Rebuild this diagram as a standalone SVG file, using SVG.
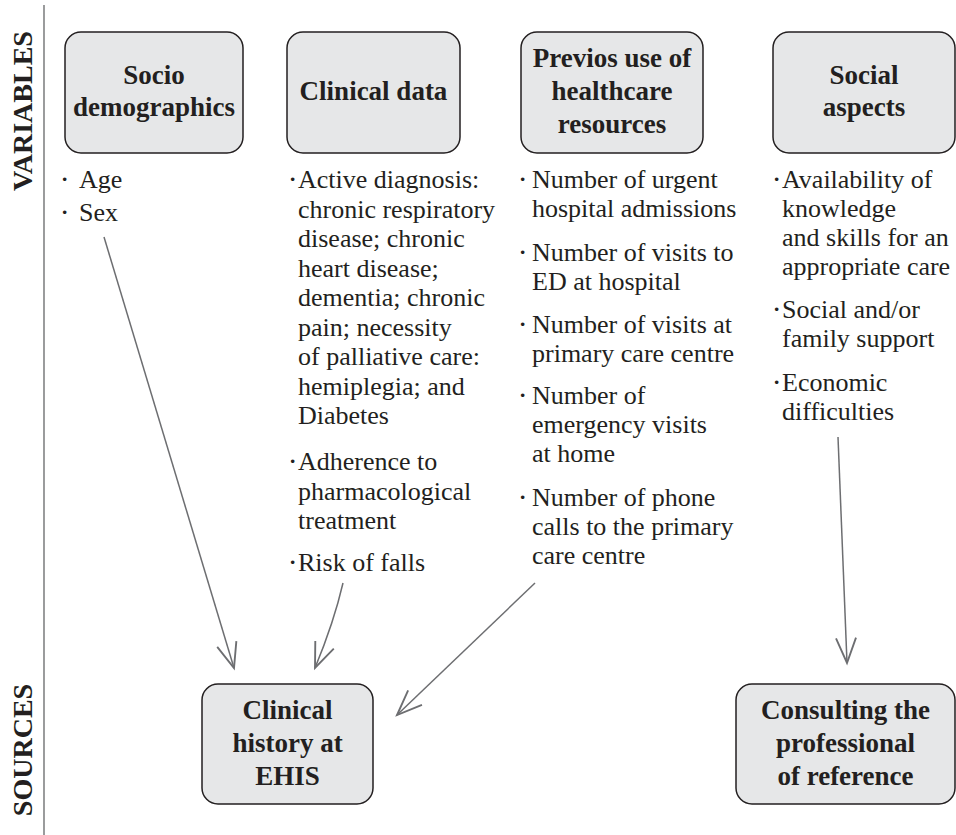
<svg xmlns="http://www.w3.org/2000/svg" width="956" height="835" viewBox="0 0 956 835">
<defs>
<style>
.box{fill:#e6e7e8;stroke:#231f20;stroke-width:1.5}
.title{font-family:"Liberation Serif",serif;font-weight:bold;font-size:27px;fill:#231f20;text-anchor:middle}
.side{font-family:"Liberation Serif",serif;font-weight:bold;font-size:28px;fill:#231f20;text-anchor:middle}
.body{font-family:"Liberation Serif",serif;font-size:26px;fill:#231f20}
.dot{font-family:"Liberation Serif",serif;font-size:22px;fill:#231f20;font-weight:bold}
.conn{fill:none;stroke:#6d6e71;stroke-width:1.5}
</style>
<marker id="arr" markerUnits="userSpaceOnUse" markerWidth="30" markerHeight="30" refX="0" refY="0" viewBox="-22 -10 24 20" orient="auto" overflow="visible">
<path d="M-20,-8 L0,0 L-20,8" fill="none" stroke="#6d6e71" stroke-width="1.5"/>
</marker>
</defs>
<rect width="956" height="835" fill="#ffffff"/>
<line x1="44" y1="5" x2="44" y2="835" stroke="#58595b" stroke-width="1.2"/>
<text class="side" transform="translate(32,111) rotate(-90)">VARIABLES</text>
<text class="side" transform="translate(32,750) rotate(-90)">SOURCES</text>

<g id="socio">
<rect class="box" x="65" y="32" width="178" height="121" rx="16"/>
<text class="title" x="154" y="84">Socio</text>
<text class="title" x="154" y="116">demographics</text>
<text class="body"><tspan class="dot" x="61" y="186">·</tspan><tspan x="79" y="188">Age</tspan><tspan class="dot" x="61" y="219">·</tspan><tspan x="79" y="221">Sex</tspan></text>
</g>

<g id="clinical-data">
<rect class="box" x="287" y="32" width="173" height="121" rx="16"/>
<text class="title" x="373.5" y="100">Clinical data</text>
<text class="body">
<tspan class="dot" x="289" y="186">·</tspan><tspan x="298" y="188">Active diagnosis:</tspan>
<tspan x="298" y="217.5">chronic respiratory</tspan>
<tspan x="298" y="247">disease; chronic</tspan>
<tspan x="298" y="276.5">heart disease;</tspan>
<tspan x="298" y="306">dementia; chronic</tspan>
<tspan x="298" y="335.5">pain; necessity</tspan>
<tspan x="298" y="365">of palliative care:</tspan>
<tspan x="298" y="394.5">hemiplegia; and</tspan>
<tspan x="298" y="424">Diabetes</tspan>
<tspan class="dot" x="289" y="468">·</tspan><tspan x="298" y="470">Adherence to</tspan>
<tspan x="298" y="499.5">pharmacological</tspan>
<tspan x="298" y="529">treatment</tspan>
<tspan class="dot" x="289" y="569">·</tspan><tspan x="298" y="571">Risk of falls</tspan>
</text>
</g>

<g id="healthcare">
<rect class="box" x="521" y="32" width="182" height="121" rx="16"/>
<text class="title" x="612" y="67">Previos use of</text>
<text class="title" x="612" y="100">healthcare</text>
<text class="title" x="612" y="133">resources</text>
<text class="body">
<tspan class="dot" x="519" y="186">·</tspan><tspan x="532" y="188">Number of urgent</tspan>
<tspan x="532" y="217">hospital admissions</tspan>
<tspan class="dot" x="519" y="259">·</tspan><tspan x="532" y="261">Number of visits to</tspan>
<tspan x="532" y="290">ED at hospital</tspan>
<tspan class="dot" x="519" y="331">·</tspan><tspan x="532" y="333">Number of visits at</tspan>
<tspan x="532" y="362">primary care centre</tspan>
<tspan class="dot" x="519" y="402">·</tspan><tspan x="532" y="404">Number of</tspan>
<tspan x="532" y="433">emergency visits</tspan>
<tspan x="532" y="462">at home</tspan>
<tspan class="dot" x="519" y="504">·</tspan><tspan x="532" y="506">Number of phone</tspan>
<tspan x="532" y="535">calls to the primary</tspan>
<tspan x="532" y="564">care centre</tspan>
</text>
</g>

<g id="social">
<rect class="box" x="773" y="32" width="182" height="121" rx="16"/>
<text class="title" x="864" y="84">Social</text>
<text class="title" x="864" y="116">aspects</text>
<text class="body">
<tspan class="dot" x="773" y="186">·</tspan><tspan x="782" y="188">Availability of</tspan>
<tspan x="782" y="217">knowledge</tspan>
<tspan x="782" y="246">and skills for an</tspan>
<tspan x="782" y="275">appropriate care</tspan>
<tspan class="dot" x="773" y="316">·</tspan><tspan x="782" y="318">Social and/or</tspan>
<tspan x="782" y="347">family support</tspan>
<tspan class="dot" x="773" y="389">·</tspan><tspan x="782" y="391">Economic</tspan>
<tspan x="782" y="420">difficulties</tspan>
</text>
</g>

<g id="ehis">
<rect class="box" x="202" y="684" width="171" height="120" rx="16"/>
<text class="title" x="287.5" y="719">Clinical</text>
<text class="title" x="287.5" y="752">history at</text>
<text class="title" x="287.5" y="785">EHIS</text>
</g>

<g id="professional">
<rect class="box" x="736" y="684" width="219" height="120" rx="16"/>
<text class="title" x="845.5" y="719">Consulting the</text>
<text class="title" x="845.5" y="752">professional</text>
<text class="title" x="845.5" y="785">of reference</text>
</g>

<g id="connectors">
<path class="conn" d="M104,237 L234,668" marker-end="url(#arr)"/>
<path class="conn" d="M343,583 Q334,622 315,668" marker-end="url(#arr)"/>
<path class="conn" d="M535,583 Q470,645 397,715" marker-end="url(#arr)"/>
<path class="conn" d="M838,437 L847,663" marker-end="url(#arr)"/>
</g>
</svg>
